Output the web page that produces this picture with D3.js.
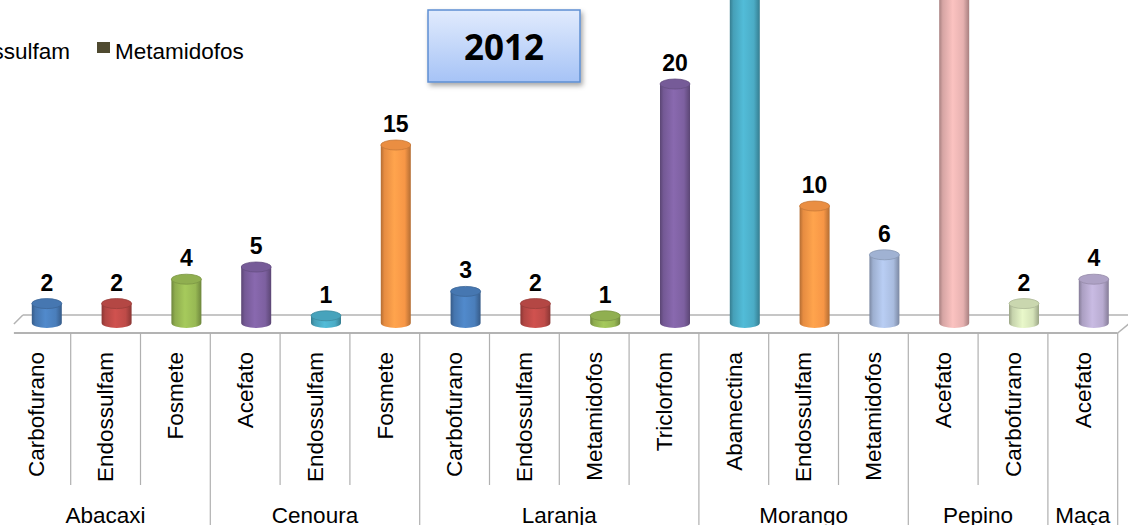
<!DOCTYPE html>
<html>
<head>
<meta charset="utf-8">
<script src="https://cdn.jsdelivr.net/npm/d3@7"></script>
<style>
  body { margin: 0; background: #fff; }
  svg { display: block; font-family: "Liberation Sans", Arial, sans-serif; }
</style>
</head>
<body>
<div id="chart"></div>
<script>
// dados 2012
const culturas = ['Abacaxi', 'Abacaxi', 'Abacaxi', 'Cenoura', 'Cenoura', 'Cenoura',
  'Laranja', 'Laranja', 'Laranja', 'Laranja', 'Morango', 'Morango', 'Morango',
  'Pepino', 'Pepino', 'Maça']
const ingredientes = ['Carbofurano', 'Endossulfam', 'Fosmete', 'Acefato', 'Endossulfam', 'Fosmete',
  'Carbofurano', 'Endossulfam', 'Metamidofos', 'Triclorfom', 'Abamectina', 'Endossulfam', 'Metamidofos',
  'Acefato', 'Carbofurano', 'Acefato']
const valores = [2, 2, 4, 5, 1, 15, 3, 2, 1, 20, 31, 10, 6, 29, 2, 4]
const cores = ['#4a7ebb', '#be4b48', '#98b954', '#7d60a0', '#4bacc6', '#f79646',
  '#4a7ebb', '#be4b48', '#98b954', '#7d60a0', '#4bacc6', '#f79646', '#a9bcdf',
  '#e6b1b0', '#d5e3b9', '#b8abd0']
const legendaNomes = ['Endossulfam', 'Metamidofos']
const legendaCores = ['#be4b48', '#4f4a30']
const titulo = '2012'

const width = 1128, height = 525
const svg = d3.select('#chart').append('svg')
  .attr('width', width)
  .attr('height', height)

const defs = svg.append('defs')

const idx = d3.range(valores.length)
const xScale = d3.scaleBand()
  .domain(idx)
  .range([0.9, 1117.7])
  .padding(0)

const yScale = d3.scaleLinear()
  .domain([0, 20])
  .range([328, 84])

// piso 3d
const depthX = 22, depthY = 18
const frontY = 333, backY = frontY - depthY
const x0 = xScale.range()[0], x1 = xScale.range()[1]
const floor = svg.append('g').attr('stroke', '#b3b3b3').attr('fill', 'none')
floor.append('line')
  .attr('x1', x0 + depthX / 2 + 2).attr('y1', frontY - depthY / 2)
  .attr('x2', x0 + depthX).attr('y2', backY).attr('stroke-width', 1.5)
floor.append('line')
  .attr('x1', x0 + depthX).attr('y1', backY)
  .attr('x2', x1 + depthX).attr('y2', backY).attr('stroke-width', 1.5)
floor.append('line')
  .attr('x1', x0 + 13).attr('y1', frontY)
  .attr('x2', x1).attr('y2', frontY).attr('stroke-width', 2)
floor.append('line')
  .attr('x1', x1).attr('y1', frontY)
  .attr('x2', x1 + depthX).attr('y2', backY).attr('stroke-width', 1.5)

// separadores
const sep = svg.append('g').attr('stroke', '#b0b0b0').attr('stroke-width', 1.2)
idx.forEach(i => {
  if (i === 0) return
  const novoGrupo = culturas[i] !== culturas[i - 1]
  sep.append('line')
    .attr('x1', xScale(i)).attr('x2', xScale(i))
    .attr('y1', frontY).attr('y2', novoGrupo ? height : 485)
})
sep.append('line')
  .attr('x1', x1).attr('x2', x1)
  .attr('y1', frontY).attr('y2', height)

// cilindros
const rx = 15, ry = 5
const baseY = frontY - depthY / 2 - 1
idx.forEach(i => {
  const c = d3.color(cores[i])
  const g = defs.append('linearGradient')
    .attr('id', 'grad' + i)
    .attr('x1', '0%').attr('x2', '100%').attr('y1', '0%').attr('y2', '0%')
  g.append('stop').attr('offset', '0%').attr('stop-color', c.darker(0.9))
  g.append('stop').attr('offset', '12%').attr('stop-color', c.darker(0.2))
  g.append('stop').attr('offset', '45%').attr('stop-color', c.brighter(0.25))
  g.append('stop').attr('offset', '80%').attr('stop-color', c)
  g.append('stop').attr('offset', '100%').attr('stop-color', c.darker(0.9))
})

const bars = svg.append('g')
idx.forEach(i => {
  const cx = xScale(i) + xScale.bandwidth() / 2 + depthX / 2
  const yTop = yScale(valores[i])
  const c = d3.color(cores[i])
  bars.append('path')
    .attr('d', `M${cx - rx},${yTop} L${cx - rx},${baseY} A${rx},${ry} 0 0 0 ${cx + rx},${baseY} L${cx + rx},${yTop} Z`)
    .attr('fill', `url(#grad${i})`)
  bars.append('ellipse')
    .attr('cx', cx).attr('cy', yTop)
    .attr('rx', rx).attr('ry', ry)
    .attr('fill', c.darker(0.15))
    .attr('stroke', c.darker(0.6))
    .attr('stroke-width', 0.8)
  bars.append('text')
    .attr('x', cx)
    .attr('y', yTop - 13)
    .attr('text-anchor', 'middle')
    .attr('font-weight', 'bold')
    .attr('font-size', 23)
    .attr('fill', '#000')
    .text(valores[i])
})

// rótulos dos ingredientes
const labels = svg.append('g')
idx.forEach(i => {
  const cx = xScale(i) + xScale.bandwidth() / 2
  labels.append('text')
    .attr('transform', `translate(${cx},352) rotate(-90)`)
    .attr('text-anchor', 'end')
    .attr('dy', '0.35em')
    .attr('font-size', 22.5)
    .attr('fill', '#000')
    .text(ingredientes[i])
})

// rótulos das culturas
const grupos = []
idx.forEach(i => {
  if (i === 0 || culturas[i] !== culturas[i - 1]) grupos.push({nome: culturas[i], ini: i, fim: i})
  else grupos[grupos.length - 1].fim = i
})
grupos.forEach(gr => {
  const a = xScale(gr.ini), b = xScale(gr.fim) + xScale.bandwidth()
  svg.append('text')
    .attr('x', (a + b) / 2)
    .attr('y', 523)
    .attr('text-anchor', 'middle')
    .attr('font-size', 22.5)
    .attr('fill', '#000')
    .text(gr.nome)
})

// legenda
const leg = svg.append('g')
leg.append('text')
  .attr('x', 70).attr('y', 59)
  .attr('text-anchor', 'end')
  .attr('font-size', 22.5)
  .text(legendaNomes[0])
leg.append('rect')
  .attr('x', 97).attr('y', 42).attr('width', 13).attr('height', 11)
  .attr('fill', legendaCores[1])
leg.append('text')
  .attr('x', 115).attr('y', 59)
  .attr('font-size', 22.5)
  .text(legendaNomes[1])

// caixa do título
const tg = defs.append('linearGradient')
  .attr('id', 'tituloGrad')
  .attr('x1', '0%').attr('x2', '0%').attr('y1', '0%').attr('y2', '100%')
tg.append('stop').attr('offset', '0%').attr('stop-color', '#e1ebfd')
tg.append('stop').attr('offset', '100%').attr('stop-color', '#a6c3f6')
const sh = defs.append('filter').attr('id', 'sombra')
  .attr('x', '-20%').attr('y', '-20%').attr('width', '150%').attr('height', '160%')
sh.append('feDropShadow')
  .attr('dx', 2).attr('dy', 3).attr('stdDeviation', 2.5)
  .attr('flood-color', '#000').attr('flood-opacity', 0.35)

svg.append('rect')
  .attr('x', 428).attr('y', 10).attr('width', 152).attr('height', 72)
  .attr('fill', 'url(#tituloGrad)')
  .attr('stroke', '#5e8fd2').attr('stroke-width', 1.5)
  .attr('filter', 'url(#sombra)')
svg.append('text')
  .attr('x', 504).attr('y', 60)
  .attr('text-anchor', 'middle')
  .attr('font-family', '"Open Sans", sans-serif')
  .attr('font-weight', 'bold')
  .attr('font-size', 35)
  .attr('fill', '#000')
  .text(titulo)
</script>
</body>
</html>
